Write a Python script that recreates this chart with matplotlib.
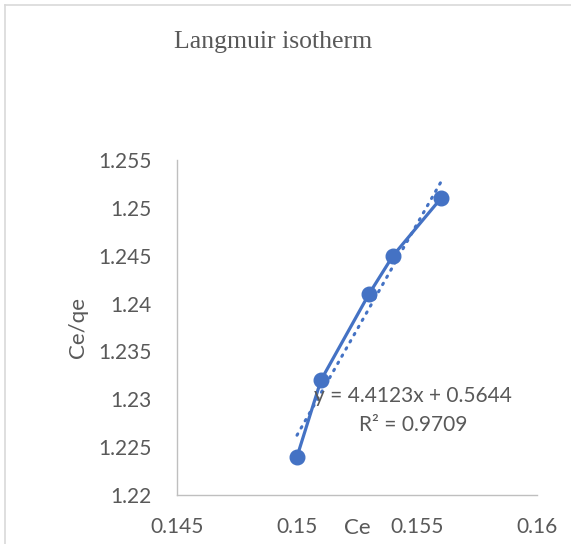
import numpy as np
import matplotlib
matplotlib.use("Agg")
import matplotlib.pyplot as plt
from matplotlib.lines import Line2D

# data
ce = [0.150, 0.151, 0.153, 0.154, 0.156]
ce_qe = [1.224, 1.232, 1.241, 1.245, 1.251]
x_ticks = [0.145, 0.15, 0.155, 0.16]
x_labels = ["0.145", "0.15", "0.155", "0.16"]
y_ticks = [1.22, 1.225, 1.23, 1.235, 1.24, 1.245, 1.25, 1.255]
y_labels = ["1.22", "1.225", "1.23", "1.235", "1.24", "1.245", "1.25", "1.255"]
eq_text = "y = 4.4123x + 0.5644"
r2_text = "R\u00b2 = 0.9709"

blue = "#4472C4"
grey = "#595959"
tick_font = "Lato"

fig = plt.figure(figsize=(5.71, 5.44), dpi=100)
ax = fig.add_axes([177 / 571, 49 / 544, 360 / 571, 335 / 544])

# series
ax.plot(ce, ce_qe, color=blue, lw=2.3, marker="o", markersize=10.5,
        markerfacecolor=blue, markeredgecolor=blue, zorder=3)

# linear trendline over the data range
k, b = np.polyfit(ce, ce_qe, 1)
tx = np.array([min(ce), max(ce)])
ax.plot(tx, k * tx + b, color=blue, lw=2.2, linestyle=(0, (0.5, 2.2)),
        dash_capstyle="round", zorder=2)

ax.set_xlim(0.145, 0.16)
ax.set_ylim(1.22, 1.255)
ax.set_xticks(x_ticks)
ax.set_xticklabels(x_labels)
ax.set_yticks(y_ticks)
ax.set_yticklabels(y_labels)
ax.tick_params(length=0, labelsize=15, labelcolor=grey)
ax.tick_params(axis="x", pad=16)
ax.tick_params(axis="y", pad=18)
for lab in ax.get_xticklabels() + ax.get_yticklabels():
    lab.set_family(tick_font)

for s in ["top", "right"]:
    ax.spines[s].set_visible(False)
for s in ["left", "bottom"]:
    ax.spines[s].set_color("#bfbfbf")
    ax.spines[s].set_linewidth(1.0)

ax.text(0.5, -0.0985, "Ce", transform=ax.transAxes, ha="center", va="center",
        fontsize=16, color=grey, family=tick_font)
ax.text(-0.275, 0.5, "Ce/qe", transform=ax.transAxes, ha="center", va="center",
        rotation=90, fontsize=16, color=grey, family=tick_font)

ax.text(0.656, 0.2955, eq_text, transform=ax.transAxes, ha="center", va="center",
        fontsize=15, color=grey, family=tick_font)
ax.text(0.656, 0.209, r2_text, transform=ax.transAxes, ha="center", va="center",
        fontsize=15, color=grey, family=tick_font)

fig.text(273 / 571, 1 - 42 / 544, "Langmuir isotherm", ha="center", va="center",
         fontsize=18.5, color=grey, family="Liberation Serif")

# chart frame (only top and left edges are inside the picture)
fig.add_artist(Line2D([4.5 / 571, 1], [1 - 5 / 544, 1 - 5 / 544],
                      transform=fig.transFigure, color="#d9d9d9", lw=1.2))
fig.add_artist(Line2D([4.5 / 571, 4.5 / 571], [0, 1 - 5 / 544],
                      transform=fig.transFigure, color="#d9d9d9", lw=1.2))

fig.savefig("out.png", dpi=100)
